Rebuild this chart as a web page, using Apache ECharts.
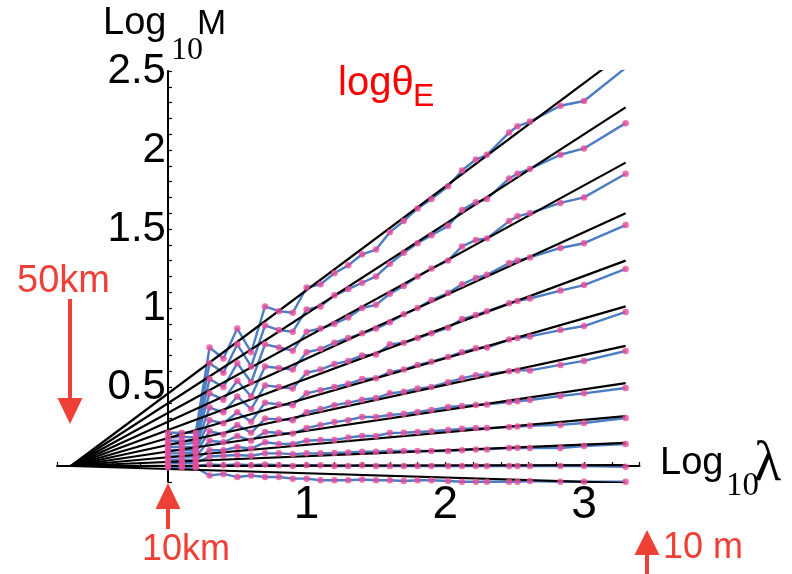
<!DOCTYPE html>
<html>
<head>
<meta charset="utf-8">
<script src="https://cdn.jsdelivr.net/npm/echarts@6/dist/echarts.min.js"></script>
<style>
  html, body { margin: 0; padding: 0; background: #fff; }
  #main { width: 792px; height: 574px; }
</style>
</head>
<body>
<div id="main"></div>
<script>
// x positions of the samples (log10 lambda)
var logLambda = [0, 0.1, 0.2, 0.3, 0.4, 0.5, 0.6, 0.7, 0.8, 0.9, 1.0, 1.1, 1.2, 1.3, 1.4, 1.5, 1.6, 1.7, 1.8, 1.9,
                 2.02, 2.12, 2.22, 2.3, 2.46, 2.52, 2.61, 2.83, 3.0, 3.3];

// log10 M, one array per theta_E (top to bottom)
var logM1  = [0.21, 0.21, 0.21, 0.75, 0.68, 0.87, 0.72, 1.01, 0.98, 0.97, 1.13, 1.15, 1.22, 1.27, 1.34, 1.37, 1.48, 1.55, 1.63, 1.69, 1.77, 1.87, 1.94, 1.97, 2.11, 2.15, 2.18, 2.28, 2.31, 2.52];
var logM2  = [0.18, 0.185, 0.18, 0.65, 0.59, 0.77, 0.63, 0.89, 0.86, 0.85, 0.99, 1.01, 1.08, 1.12, 1.16, 1.2, 1.28, 1.35, 1.41, 1.46, 1.52, 1.62, 1.67, 1.69, 1.82, 1.85, 1.88, 1.97, 2.01, 2.17];
var logM3  = [0.16, 0.16, 0.16, 0.55, 0.5, 0.65, 0.53, 0.77, 0.75, 0.73, 0.85, 0.87, 0.9, 0.94, 1.0, 1.02, 1.09, 1.14, 1.2, 1.25, 1.3, 1.39, 1.43, 1.44, 1.55, 1.58, 1.6, 1.665, 1.7, 1.85];
var logM4  = [0.14, 0.14, 0.145, 0.46, 0.42, 0.54, 0.44, 0.63, 0.62, 0.61, 0.72, 0.74, 0.78, 0.81, 0.84, 0.87, 0.91, 0.96, 1.0, 1.05, 1.095, 1.15, 1.19, 1.21, 1.285, 1.3, 1.32, 1.38, 1.41, 1.525];
var logM5  = [0.12, 0.12, 0.12, 0.37, 0.34, 0.44, 0.36, 0.51, 0.5, 0.49, 0.59, 0.61, 0.645, 0.665, 0.7, 0.705, 0.77, 0.78, 0.81, 0.84, 0.875, 0.93, 0.955, 0.98, 1.03, 1.045, 1.06, 1.11, 1.145, 1.247];
var logM6  = [0.1, 0.1, 0.1, 0.29, 0.27, 0.34, 0.28, 0.4, 0.39, 0.385, 0.46, 0.48, 0.5, 0.52, 0.55, 0.555, 0.595, 0.61, 0.64, 0.66, 0.69, 0.72, 0.745, 0.75, 0.8, 0.81, 0.82, 0.86, 0.886, 0.975];
var logM7  = [0.08, 0.08, 0.085, 0.22, 0.2, 0.26, 0.21, 0.3, 0.295, 0.29, 0.34, 0.36, 0.385, 0.4, 0.42, 0.43, 0.46, 0.47, 0.49, 0.5, 0.53, 0.555, 0.575, 0.58, 0.6, 0.605, 0.605, 0.64, 0.665, 0.728];
var logM8  = [0.06, 0.06, 0.06, 0.16, 0.15, 0.19, 0.16, 0.215, 0.21, 0.205, 0.24, 0.26, 0.278, 0.29, 0.31, 0.31, 0.323, 0.33, 0.342, 0.355, 0.373, 0.38, 0.386, 0.39, 0.405, 0.41, 0.418, 0.443, 0.46, 0.494];
var logM9  = [0.04, 0.04, 0.04, 0.1, 0.1, 0.12, 0.11, 0.15, 0.14, 0.14, 0.16, 0.165, 0.165, 0.18, 0.19, 0.19, 0.209, 0.21, 0.215, 0.22, 0.228, 0.235, 0.24, 0.24, 0.247, 0.25, 0.255, 0.26, 0.272, 0.304];
var logM10 = [0.02, 0.02, 0.02, 0.06, 0.065, 0.07, 0.065, 0.08, 0.08, 0.075, 0.08, 0.08, 0.082, 0.085, 0.09, 0.09, 0.095, 0.095, 0.095, 0.095, 0.095, 0.1, 0.105, 0.105, 0.114, 0.115, 0.114, 0.114, 0.127, 0.139];
var logM11 = [0.0, 0.0, 0.0, 0.01, 0.005, 0.01, 0.005, 0.01, 0.005, 0.0, 0.005, 0.005, 0.0, 0.0, 0.005, 0.0, 0.0, 0.0, 0.0, 0.0, 0.0, 0.0, 0.0, 0.0, 0.0, 0.0, 0.0, 0.0, 0.0, -0.005];
var logM12 = [-0.01, -0.01, -0.01, -0.06, -0.05, -0.07, -0.06, -0.07, -0.07, -0.08, -0.08, -0.09, -0.09, -0.09, -0.085, -0.09, -0.09, -0.095, -0.09, -0.09, -0.095, -0.1, -0.1, -0.1, -0.1, -0.1, -0.095, -0.1, -0.1, -0.1];

// black straight fits: all start at the 50 km point and end at x = 3.3
var fanX = -0.7;
var fitX = 3.3;
var fitEnd = [2.62, 2.27, 1.92, 1.60, 1.30, 1.01, 0.76, 0.525, 0.316, 0.146, 0.005, -0.108];

var blue = '#4A7DC1';
var pink = '#EA4C9B';
var red = '#EE4036';

var chart = echarts.init(document.getElementById('main'));
var allM = [logM1, logM2, logM3, logM4, logM5, logM6, logM7, logM8, logM9, logM10, logM11, logM12];

function pairs(m) {
  return logLambda.map(function (x, i) { return [x, m[i]]; });
}

var series = [];
allM.forEach(function (m) {
  series.push({
    type: 'line', data: pairs(m), symbol: 'none', silent: true, z: 2,
    lineStyle: { color: blue, width: 2.4 }
  });
});
fitEnd.forEach(function (v) {
  series.push({
    type: 'line', data: [[fanX, 0], [fitX, v]], symbol: 'none', silent: true, z: 3,
    lineStyle: { color: '#000', width: 2.2 }
  });
});
allM.forEach(function (m) {
  series.push({
    type: 'scatter', data: pairs(m), symbolSize: 6.5, silent: true, z: 4,
    itemStyle: { color: pink }
  });
});

function txt(s, x, y, font, color) {
  return {
    type: 'text', x: x, y: y, z: 10, silent: true,
    style: { text: s, font: font, fill: color || '#000', align: 'left', verticalAlign: 'middle',
             textAlign: 'left', textVerticalAlign: 'middle' }
  };
}
function arrow(x, tipY, baseY, tailY) {
  return [
    { type: 'line', z: 10, silent: true, shape: { x1: x, y1: baseY + (tailY > baseY ? -2 : 2), x2: x, y2: tailY },
      style: { stroke: red, lineWidth: 4 } },
    { type: 'polygon', z: 10, silent: true, shape: { points: [[x - 12.5, baseY], [x + 12.5, baseY], [x, tipY]] },
      style: { fill: red } }
  ];
}

var sans = '"Liberation Sans", Arial, sans-serif';
var serif = '"Liberation Serif", "Times New Roman", serif';

var graphics = [
  txt('Log', 103, 24, '38px ' + sans),
  txt('10', 171, 51, '32px ' + serif),
  txt('M', 197, 24, '35px ' + sans),
  txt('Log', 660, 464, '38px ' + sans),
  txt('10', 726, 486, '33px ' + serif),
  txt('\u03bb', 754, 465, '56px ' + serif),
  txt('log\u03b8', 338, 84, '40px ' + sans, '#FF0000'),
  txt('E', 413, 97, '32px ' + sans, '#FF0000'),
  txt('50km', 17, 282, '38px ' + sans, red),
  txt('10km', 142, 550, '36px ' + sans, red),
  txt('10 m', 663, 548, '36px ' + sans, red)
].concat(arrow(70, 424, 398, 299), arrow(168, 483, 509, 529), arrow(647, 530, 555, 574));

// grid: x from -0.8 to 3.4, y from -0.1 to 2.5; axes are shifted in to x = 0 / y = 0
var gridLeft = 57, gridTop = 71, gridW = 582.5, gridH = 410.8;

var option = {
  animation: false,
  backgroundColor: '#fff',
  grid: { left: gridLeft, top: gridTop, width: gridW, height: gridH, containLabel: false, outerBoundsMode: 'none' },
  xAxis: {
    type: 'value', min: -0.8, max: 3.4, interval: 0.2,
    offset: -gridH * 0.1 / 2.6,
    axisLine: { onZero: false, lineStyle: { color: '#000', width: 2 } },
    axisTick: { show: true, inside: true, length: 4, lineStyle: { color: '#000', width: 1.2 } },
    splitLine: { show: false },
    axisLabel: {
      margin: 16, color: '#000', fontSize: 46, fontFamily: sans,
      showMinLabel: true, showMaxLabel: true,
      formatter: function (v) {
        var r = Math.round(v * 10) / 10;
        return (r > 0 && Math.abs(r - Math.round(r)) < 1e-6) ? String(Math.round(r)) : '';
      }
    }
  },
  yAxis: {
    type: 'value', min: -0.1, max: 2.5, interval: 0.1,
    offset: -gridW * 0.8 / 4.2,
    axisLine: { onZero: false, lineStyle: { color: '#000', width: 2 } },
    axisTick: { show: true, inside: true, length: 4, lineStyle: { color: '#000', width: 1.2 } },
    splitLine: { show: false },
    axisLabel: {
      margin: 2, color: '#000', fontSize: 42, fontFamily: sans,
      showMinLabel: true, showMaxLabel: true,
      formatter: function (v) {
        var r = Math.round(v * 10) / 10;
        return (r > 0 && Math.abs(r * 2 - Math.round(r * 2)) < 1e-6) ? String(r) : '';
      }
    }
  },
  series: series,
  graphic: graphics
};

chart.setOption(option);
</script>
</body>
</html>
